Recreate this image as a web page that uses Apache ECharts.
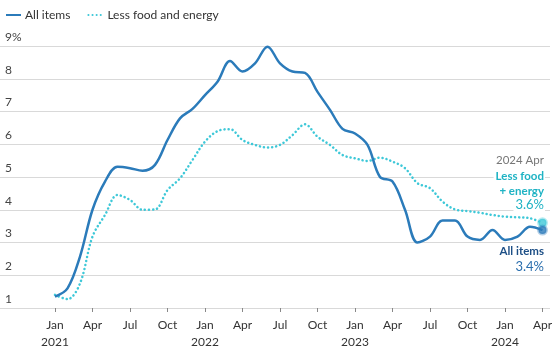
<!DOCTYPE html>
<html>
<head>
<meta charset="utf-8">
<script src="https://cdn.jsdelivr.net/npm/echarts@6/dist/echarts.min.js"></script>
<style>html,body{margin:0;padding:0;background:#fff}#c{width:557px;height:357px}</style>
</head>
<body>
<div id="c"></div>
<script>
// Month index 0 = Jan 2021 ... 39 = Apr 2024
const allItems = [1.35,1.6,2.57,4.0,4.86,5.31,5.27,5.19,5.37,6.13,6.79,7.08,
  7.5,7.91,8.54,8.22,8.47,8.98,8.47,8.22,8.18,7.6,7.05,6.47,
  6.33,5.98,5.0,4.86,4.0,3.0,3.18,3.67,3.67,3.18,3.08,3.38,
  3.08,3.18,3.48,3.38];
const core = [1.4,1.27,1.75,3.18,3.84,4.45,4.3,4.0,4.01,4.6,4.96,5.52,
  6.08,6.4,6.46,6.13,5.98,5.9,5.98,6.28,6.61,6.23,5.98,5.67,
  5.57,5.49,5.59,5.47,5.27,4.81,4.66,4.25,4.01,3.96,3.91,3.84,
  3.79,3.77,3.74,3.6];
const tickMonths = [0,3,6,9,12,15,18,21,24,27,30,33,36,39];
const tickLabels = ['Jan\n2021','Apr','Jul','Oct','Jan\n2022','Apr','Jul','Oct','Jan\n2023','Apr','Jul','Oct','Jan\n2024','Apr'];
const names = ['All items','Less food and energy'];
const endLabel = '2024 Apr';

const C1 = '#2b7bba', C2 = '#3ec8d8';
const font = 'Lato';
const pts = arr => arr.map((v,i)=>[i,v]);
const last = allItems.length - 1;
const txt = (t, top, size, weight, fill) => ({type:'text', right:12, top:top, z:10,
  style:{text:t, fontFamily:font, fontSize:size, fontWeight:weight, fill:fill, backgroundColor:'#fff', padding:[0,1,0,2]}});

const chart = echarts.init(document.getElementById('c'), null, {renderer:'canvas'});
chart.setOption({
  animation:false,
  textStyle:{fontFamily:font},
  legend:{
    left:5, top:9, padding:0, itemGap:17, itemWidth:15, itemHeight:10,
    itemStyle:{color:'rgba(0,0,0,0)', borderWidth:0, opacity:0},
    textStyle:{fontFamily:font, fontSize:12, color:'#333', padding:[0,0,0,-1]},
    data:[{name:names[0]},{name:names[1]}]
  },
  grid:{left:0, right:7, top:46, bottom:49},
  xAxis:{
    type:'value', min:-4.4, max:39.6,
    axisLine:{show:false},
    splitLine:{show:false},
    axisTick:{show:true, customValues:tickMonths, length:4, lineStyle:{color:'#888'}},
    axisLabel:{customValues:tickMonths, margin:9, fontFamily:font, fontSize:12, color:'#333', lineHeight:17,
      formatter:v=>tickLabels[tickMonths.indexOf(Math.round(v))] || ''}
  },
  yAxis:{
    type:'value', min:1, max:9, interval:1,
    axisLine:{show:false}, axisTick:{show:false},
    splitLine:{lineStyle:{color:'#d9d9d9', width:1}},
    axisLabel:{inside:true, margin:5, verticalAlign:'bottom', padding:[0,0,3,0], fontFamily:font, fontSize:12, color:'#444',
      formatter:v=>v===9? v+'%' : String(v)}
  },
  series:[
    {name:names[0], type:'line', smooth:0.35, symbol:'none', data:pts(allItems),
      lineStyle:{color:C1, width:2.5}, itemStyle:{color:C1}, z:3},
    {name:names[1], type:'line', smooth:0.35, symbol:'none', data:pts(core),
      lineStyle:{color:C2, width:2.5, type:[0.1,4], cap:'round'}, itemStyle:{color:C2}, z:2},
    {type:'scatter', symbolSize:8, data:[[last, core[last]]], silent:true,
      itemStyle:{color:C2, borderColor:'rgba(62,200,216,0.45)', borderWidth:3}, z:4},
    {type:'scatter', symbolSize:8, data:[[last, allItems[last]]], silent:true,
      itemStyle:{color:C1, borderColor:'rgba(43,123,186,0.45)', borderWidth:3}, z:5}
  ],
  graphic:[
    txt(endLabel, 154, 11.5, 'normal', '#777'),
    txt('Less food', 170, 11.5, 'bold', '#1fb3c4'),
    txt('+ energy', 185, 11.5, 'bold', '#1fb3c4'),
    txt(core[last].toFixed(1)+'%', 198, 13, 'normal', '#1fb3c4'),
    txt(names[0], 245, 11.5, 'bold', '#1d4f86'),
    txt(allItems[last].toFixed(1)+'%', 260, 13, 'normal', '#2b6fae')
  ]
});
</script>
</body>
</html>
